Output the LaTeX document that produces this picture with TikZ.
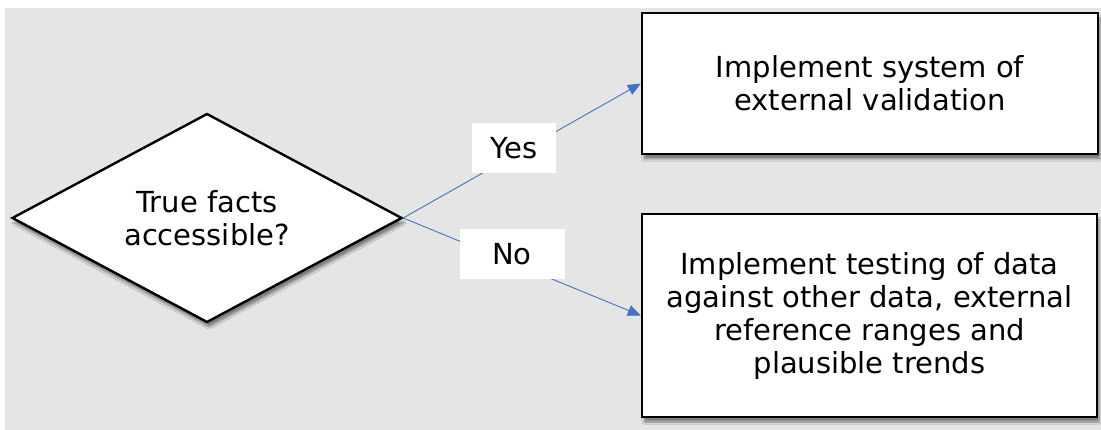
\documentclass[tikz,border=0pt]{standalone}
\usepackage{fontspec}
\setmainfont{DejaVu Sans}
\usetikzlibrary{shapes.geometric,arrows.meta,shadows.blur}
\definecolor{bggray}{HTML}{E5E5E5}
\definecolor{linkblue}{HTML}{4472C4}
\begin{document}
\begin{tikzpicture}[x=1pt,y=-1pt,
  every node/.style={font=\fontsize{29}{33}\selectfont, align=center},
  box/.style={draw, line width=2.4pt, fill=white, inner sep=0pt,
    blur shadow={shadow xshift=2pt, shadow yshift=-5pt, shadow blur steps=6, shadow opacity=45}},
  lbl/.style={fill=white, inner sep=0pt},
  link/.style={draw=linkblue, line width=0.9pt, -{Triangle[length=13pt,width=11pt]}}]
\useasboundingbox (0,0) rectangle (1101,430);
\fill[white] (0,0) rectangle (1101,430);
\fill[bggray] (5,8) rectangle (1101,430);

\node[box, shape=diamond, aspect=1.86, minimum width=390pt, minimum height=209pt] (q) at (207,218) {True facts\\accessible?};
\node[box, minimum width=456pt, minimum height=141pt] (ext) at (870,83.5) {Implement system of\\external validation};
\node[box, minimum width=455pt, minimum height=203pt] (test) at (869.5,315.5) {Implement testing of data\\against other data, external\\reference ranges and\\plausible trends};

\draw[link] (q.east) -- (ext.west);
\draw[link] (q.east) -- (test.west);

\node[lbl, minimum width=84pt, minimum height=50pt] (yes) at (514,148) {Yes};
\node[lbl, minimum width=105pt, minimum height=50pt] (no) at (512,254) {No};
\end{tikzpicture}
\end{document}
